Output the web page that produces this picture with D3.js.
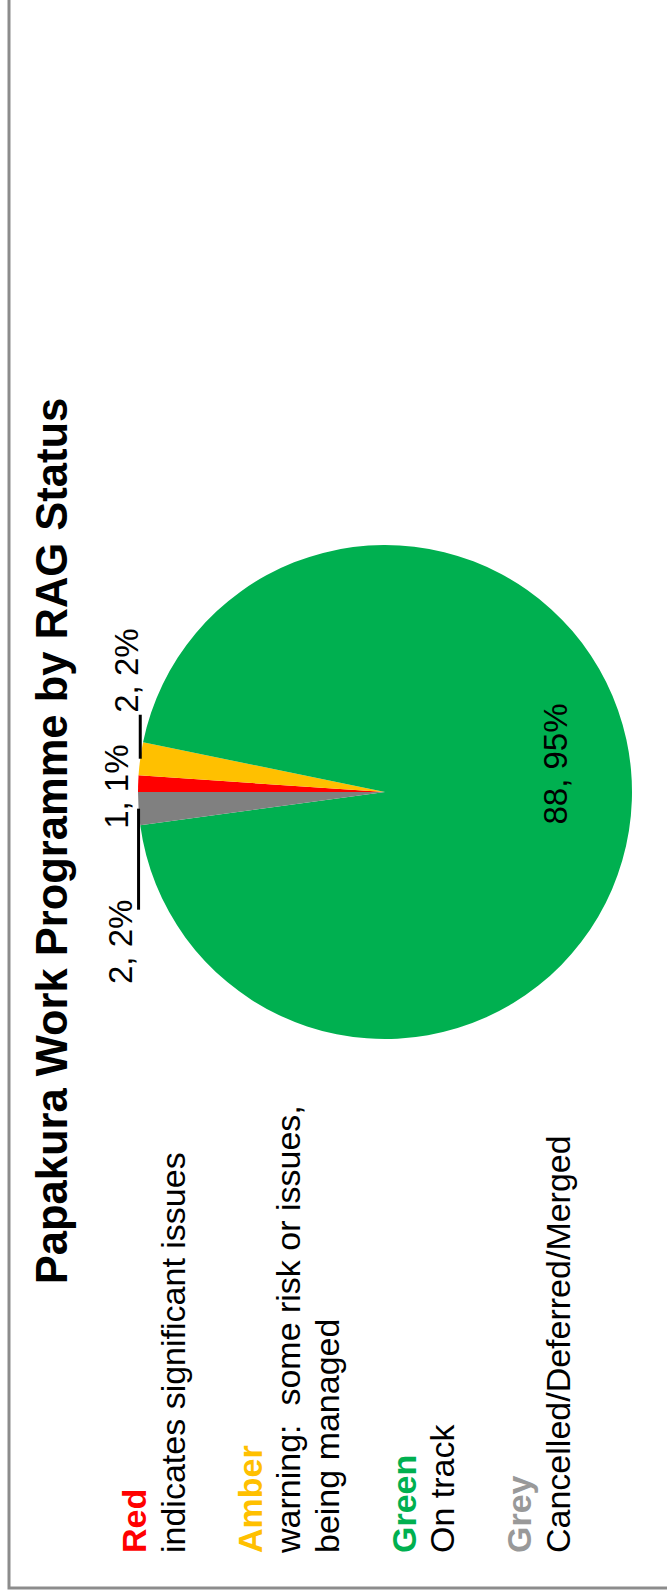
<!DOCTYPE html>
<html>
<head>
<meta charset="utf-8">
<script src="https://cdn.jsdelivr.net/npm/d3@7"></script>
<style>
  html, body { margin: 0; padding: 0; background: #fff; }
  svg { display: block; }
  text { font-family: "Liberation Sans", Arial, sans-serif; }
</style>
</head>
<body>
<svg id="chart" width="667" height="1593"></svg>
<script>
var title = "Papakura Work Programme by RAG Status";
var categories = ["Red", "Amber", "Green", "Grey"];
var counts = [1, 2, 88, 2];
var descriptions = [
    ["indicates significant issues"],
    ["warning:  some risk or issues,", "being managed"],
    ["On track"],
    ["Cancelled/Deferred/Merged"]
];

var sliceColor = { Red: "#ff0000", Amber: "#ffc000", Green: "#00b050", Grey: "#808080" };
var legendColor = { Red: "#ff0000", Amber: "#ffc000", Green: "#00b050", Grey: "#999999" };

// chart is drawn in its own landscape frame, then turned a quarter left
var W = 1593, H = 667;
var svg = d3.select("#chart");
var g = svg.append("g").attr("transform", "translate(0," + W + ") rotate(-90)");

g.append("rect")
    .attr("x", 5).attr("y", 9)
    .attr("width", W).attr("height", H)
    .attr("fill", "none")
    .attr("stroke", "#8c8c8c")
    .attr("stroke-width", 3);

g.append("text")
    .attr("x", 752).attr("y", 67)
    .attr("text-anchor", "middle")
    .style("font-size", "43.5px")
    .style("font-weight", "bold")
    .text(title);

var data = categories.map((c, i) => ({ name: c, value: counts[i] }));
var total = d3.sum(counts);

var cx = 801, cy = 385, r = 247;
var pie = d3.pie().sort(null).value(d => d.value);
var arcs = pie(data);
var arc = d3.arc().innerRadius(0).outerRadius(r);
var edge = d3.arc().innerRadius(r).outerRadius(r);

var pieG = g.append("g").attr("transform", "translate(" + cx + "," + cy + ")");

pieG.selectAll("path")
    .data(arcs)
    .enter()
        .append("path")
        .attr("d", arc)
        .style("fill", d => sliceColor[d.data.name]);

function labelText(d) {
    return d.data.value + ", " + Math.round(d.data.value / total * 100) + "%";
}

// label placement relative to each slice's midpoint on the rim
var labelPos = {
    Red:   { dx: -3,  dy: -257, anchor: "middle", lead: null },
    Amber: { dx: 46,  dy: -247, anchor: "start",  lead: 44 },
    Green: { dx: 28,  dy: 182,  anchor: "middle", lead: null },
    Grey:  { dx: -91, dy: -253, anchor: "end",    lead: -101 }
};

arcs.forEach(function(d) {
    var p = labelPos[d.data.name];
    var m = edge.centroid(d);
    var x = d.data.name === "Green" ? p.dx : m[0] + p.dx;
    pieG.append("text")
        .attr("x", x)
        .attr("y", p.dy)
        .attr("text-anchor", p.anchor)
        .style("font-size", "33px")
        .text(labelText(d));
    if (p.lead !== null) {
        pieG.append("line")
            .attr("x1", m[0]).attr("y1", m[1])
            .attr("x2", m[0] + p.lead).attr("y2", m[1])
            .style("stroke", "black")
            .style("stroke-width", 3);
    }
});

// legend block: name in bold colour, then description lines
var lineH = 38.5;
var legendG = g.append("g");
var row = 0;
categories.forEach(function(c, i) {
    legendG.append("text")
        .attr("x", 40)
        .attr("y", 146 + row * lineH)
        .style("font-size", "34px")
        .style("font-weight", "bold")
        .style("fill", legendColor[c])
        .text(c);
    row++;
    descriptions[i].forEach(function(line) {
        legendG.append("text")
            .attr("x", 40)
            .attr("y", 146 + row * lineH)
            .style("font-size", "34px")
            .attr("xml:space", "preserve")
            .text(line);
        row++;
    });
    row++;
});
</script>
</body>
</html>
